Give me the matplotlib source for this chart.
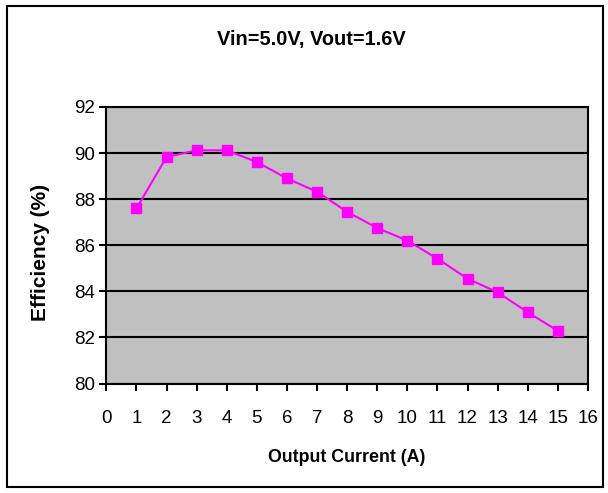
import matplotlib.pyplot as plt
from matplotlib.patches import Rectangle

plt.rcParams['font.family'] = ['Liberation Sans', 'DejaVu Sans']

# data
current = [1, 2, 3, 4, 5, 6, 7, 8, 9, 10, 11, 12, 13, 14, 15]
efficiency = [87.6, 89.83, 90.12, 90.12, 89.61, 88.9, 88.32, 87.45, 86.75,
              86.2, 85.42, 84.55, 83.96, 83.09, 82.29]
x_ticks = list(range(0, 17))
y_ticks = [80, 82, 84, 86, 88, 90, 92]

fig = plt.figure(figsize=(6.08, 4.93), dpi=100)
ax = fig.add_axes([0.175, 0.222, 0.792, 0.561])

ax.set_facecolor('#C0C0C0')
ax.plot(current, efficiency, color='#FF00FF', linewidth=1.5,
        marker='s', markersize=7, zorder=3)

ax.set_xlim(0, 16)
ax.set_ylim(80, 92)
ax.set_xticks(x_ticks)
ax.set_yticks(y_ticks)
ax.grid(axis='y', color='black', linewidth=1.5)
ax.set_axisbelow(True)
for s in ax.spines.values():
    s.set_linewidth(1.5)
    s.set_color('black')
ax.tick_params(direction='out', length=5, width=1.5, labelsize=13.5)
ax.tick_params(axis='x', pad=14)
ax.tick_params(axis='y', pad=3)

fig.text(0.571, 0.071, 'Output Current (A)', ha='center', va='center',
         fontsize=12.8, fontweight='bold')
fig.text(0.066, 0.487, 'Efficiency (%)', ha='center', va='center',
         rotation=90, fontsize=15, fontweight='bold')
fig.text(0.512, 0.919, 'Vin=5.0V, Vout=1.6V', ha='center', va='center',
         fontsize=14.4, fontweight='bold')

# outer chart border
fig.patches.append(Rectangle((7 / 608, 6 / 493), 596 / 608, 481 / 493,
                             transform=fig.transFigure, fill=False,
                             edgecolor='black', linewidth=1.5))

fig.savefig('out.png', dpi=100)
